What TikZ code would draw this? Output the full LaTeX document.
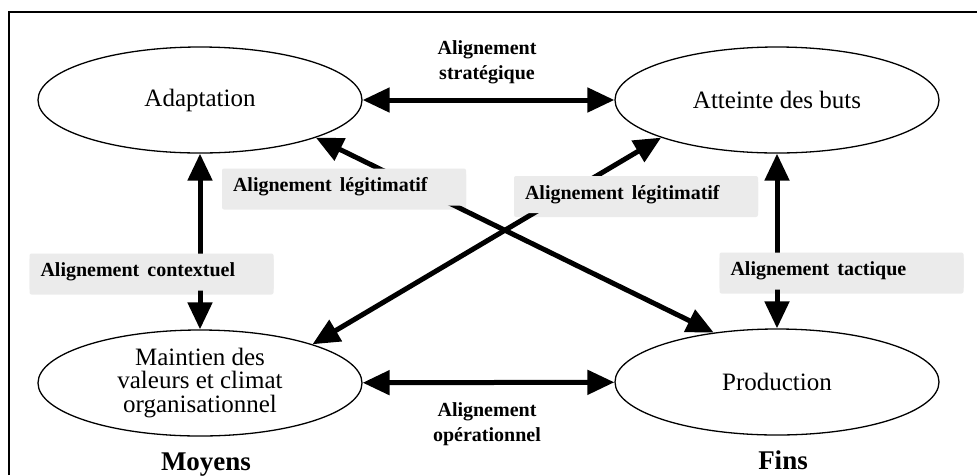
\documentclass[tikz,border=0pt]{standalone}
\usepackage{fontspec}
\setmainfont{Liberation Serif}
\usetikzlibrary{arrows.meta,shapes.geometric,shadows}
\definecolor{boxgray}{RGB}{235,235,235}
\newcommand{\gapsp}{\hspace{8pt}}
\begin{document}
\begin{tikzpicture}[x=1pt,y=-1pt,
  ell/.style={draw, ellipse, line width=1.3pt, minimum width=324pt, minimum height=106pt,
    inner sep=0pt, align=center, font=\fontsize{25}{23.5}\selectfont},
  link/.style={line width=5pt, {Triangle[length=27pt,width=24pt]}-{Triangle[length=27pt,width=24pt]}},
  lab/.style={font=\fontsize{20}{25}\selectfont\bfseries, align=center, inner sep=0pt},
  tagbox/.style={fill=boxgray, rounded corners=2pt, minimum height=37pt, text width=222pt,
    inner xsep=11pt, inner ysep=0pt, align=left, font=\fontsize{20}{24}\selectfont\bfseries,
    drop shadow={shadow xshift=0pt, shadow yshift=-4pt, opacity=0.08, fill=black}},
  side/.style={font=\fontsize{27}{30}\selectfont\bfseries, inner sep=0pt, anchor=base}
]
\useasboundingbox (0,0) rectangle (977,475);
\fill[white] (0,0) rectangle (977,475);
\draw[line width=1.8pt] (9,475) -- (9,12) -- (977,12);

\node[ell] (adapt) at (200,100) {Adaptation};
\node[ell] (goal) at (777,100) {Atteinte des buts};
\node[ell] (maint) at (200,383) {Maintien des\\valeurs et climat\\organisationnel};
\node[ell] (prod) at (777,382) {Production};

\draw[link] (adapt) -- (goal);
\draw[link] (maint) -- (prod);
\draw[link] (adapt) -- (maint);
\draw[link] (goal) -- (prod);
\draw[link] (adapt.-18) -- (prod.142);
\draw[link] (maint.19) -- (goal.198);

\node[lab] (strat) at (487,62) {Alignement\\stratégique};
\node[lab] (oper) at (487,424.5) {Alignement\\opérationnel};

\node[tagbox] (legl) at (344,187) {Alignement\gapsp légitimatif};
\node[tagbox] (legr) at (636,194.5) {Alignement\gapsp légitimatif};
\node[tagbox] (ctx) at (151.5,272) {Alignement\gapsp contextuel};
\node[tagbox] (tac) at (841.5,271) {Alignement\gapsp tactique};

\node[side] (moy) at (206,470) {Moyens};
\node[side] (fins) at (783,469) {Fins};
\end{tikzpicture}
\end{document}
